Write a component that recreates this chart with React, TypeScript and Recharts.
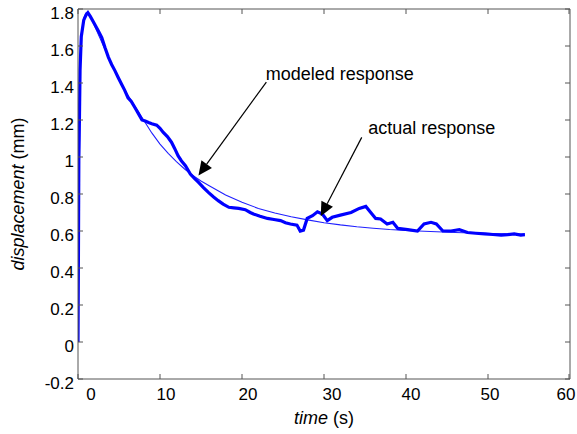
import React from 'react';
import {
  LineChart,
  Line,
  XAxis,
  YAxis,
  ReferenceLine,
  ReferenceDot,
  Label,
} from 'recharts';

// measured response (thick, noisy trace)
const actualTime = [
  0, 0.05, 0.1, 0.15, 0.25, 0.4, 0.7, 1.0, 1.2, 1.5, 2.0, 2.5, 2.9, 3.3, 3.7, 4.1, 4.5, 4.9, 5.3, 5.7,
  6.1, 6.5, 6.9, 7.3, 7.8, 8.2, 8.6, 9.0, 9.6, 10.0, 10.4, 10.9, 11.4, 11.8, 12.2, 12.6, 13.1, 13.7,
  14.2, 14.7, 15.3, 15.9, 16.5, 17.1, 17.7, 18.4, 19.0, 19.6, 20.4, 21.0, 21.4, 22.2, 23.1, 23.9,
  24.7, 25.3, 25.9, 26.7, 27.1, 27.5, 27.95, 28.6, 29.2, 29.8, 30.4, 31.0, 32.0, 33.3, 34.3, 35.1,
  35.7, 36.3, 36.9, 37.7, 38.4, 39.0, 40.2, 41.4, 42.2, 43.05, 43.7, 44.5, 45.5, 46.5, 47.5, 48.5,
  49.6, 50.6, 51.6, 52.4, 53.2, 54.0, 54.5,
];
const actualDisp = [
  0, 0.45, 0.98, 1.12, 1.47, 1.65, 1.74, 1.77, 1.78, 1.76, 1.72, 1.68, 1.645, 1.59, 1.54, 1.5, 1.467,
  1.43, 1.395, 1.36, 1.32, 1.3, 1.27, 1.24, 1.2, 1.195, 1.187, 1.18, 1.172, 1.155, 1.133, 1.11, 1.08,
  1.045, 1.007, 0.98, 0.953, 0.908, 0.885, 0.863, 0.835, 0.809, 0.785, 0.764, 0.745, 0.728, 0.725,
  0.722, 0.715, 0.7, 0.692, 0.68, 0.668, 0.662, 0.656, 0.645, 0.638, 0.632, 0.6, 0.605, 0.668, 0.683,
  0.704, 0.692, 0.656, 0.674, 0.686, 0.7, 0.722, 0.733, 0.7, 0.668, 0.665, 0.638, 0.647, 0.614, 0.607,
  0.6, 0.638, 0.647, 0.638, 0.6, 0.6, 0.607, 0.592, 0.588, 0.584, 0.581, 0.578, 0.58, 0.584, 0.578, 0.58,
];

// modeled response (thin, smooth trace)
const modelTime = [
  0, 0.08, 0.2, 0.4, 0.7, 1.0, 1.4, 2, 3, 4, 5, 6, 7, 8, 9, 10, 11, 12, 13, 14, 15, 16, 18, 20, 22, 24,
  26, 28, 30, 32, 34, 36, 38, 40, 43, 46, 49, 52, 54.5,
];
const modelDisp = [
  0, 0.9, 1.45, 1.66, 1.75, 1.78, 1.77, 1.71, 1.61, 1.51, 1.42, 1.34, 1.27, 1.2, 1.13, 1.07, 1.02,
  0.975, 0.935, 0.9, 0.87, 0.845, 0.795, 0.755, 0.722, 0.697, 0.677, 0.66, 0.645, 0.633, 0.623, 0.615,
  0.608, 0.603, 0.597, 0.592, 0.588, 0.585, 0.583,
];

const xTicks = [0, 10, 20, 30, 40, 50, 60];
const yTicks = [-0.2, 0, 0.2, 0.4, 0.6, 0.8, 1, 1.2, 1.4, 1.6, 1.8];
// the x labels sit a little right of their tick marks in the original
const xLabelShift = [13, 6, 6, 8, 5, 2, -3];

// annotation arrows: [start, tip] in data units
const modeledArrow = [{ x: 22.97, y: 1.405 }, { x: 14.69, y: 0.9 }];
const actualArrow = [{ x: 34.6, y: 1.106 }, { x: 29.6, y: 0.68 }];
const modeledText = { x: 22.9, y: 1.416, text: 'modeled response' };
const actualText = { x: 35.4, y: 1.124, text: 'actual response' };

const FONT = "Arial, 'Liberation Sans', sans-serif";
const AXIS = '#555';

const actualData = actualTime.map((t, i) => ({ t, d: actualDisp[i] }));
const modelData = modelTime.map((t, i) => ({ t, d: modelDisp[i] }));

const fmt = (v: number) => String(Number(v.toFixed(1)));

const LeftTick = (props: any) => {
  const { x, y, payload } = props;
  return (
    <g>
      <line x1={x + 4} x2={x + 9} y1={y} y2={y} stroke={AXIS} />
      <text x={x} y={y + 4} textAnchor="end" dominantBaseline="central" fontSize={17} fontFamily={FONT} fill="#000">
        {fmt(payload.value)}
      </text>
    </g>
  );
};

const RightTick = (props: any) => {
  const { x, y } = props;
  return <line x1={x - 5} x2={x} y1={y} y2={y} stroke={AXIS} />;
};

const BottomTick = (props: any) => {
  const { x, y, payload, index } = props;
  const dx = xLabelShift[index] ?? 5;
  return (
    <g>
      <line x1={x} x2={x} y1={y - 5} y2={y} stroke={AXIS} />
      <text x={x + dx} y={y + 15} textAnchor="middle" dominantBaseline="central" fontSize={17} fontFamily={FONT} fill="#000">
        {payload.value}
      </text>
    </g>
  );
};

const TopTick = (props: any) => {
  const { x, y } = props;
  return <line x1={x} x2={x} y1={y} y2={y + 5} stroke={AXIS} />;
};

const Arrow = (props: any) => {
  const { x1, y1, x2, y2 } = props;
  const ang = Math.atan2(y2 - y1, x2 - x1);
  const len = 14;
  const half = 6.5;
  const bx = x2 - len * Math.cos(ang);
  const by = y2 - len * Math.sin(ang);
  const px = -Math.sin(ang) * half;
  const py = Math.cos(ang) * half;
  return (
    <g>
      <line x1={x1} y1={y1} x2={bx} y2={by} stroke="#000" strokeWidth={1.2} />
      <polygon points={`${x2},${y2} ${bx + px},${by + py} ${bx - px},${by - py}`} fill="#000" />
    </g>
  );
};

const noteShape = (text: string) => (props: any) => (
  <text x={props.cx} y={props.cy} fontSize={18} fontFamily={FONT} fill="#000">
    {text}
  </text>
);

const XTitle = (props: any) => {
  const { viewBox } = props;
  const cx = viewBox.x + viewBox.width / 2;
  return (
    <text x={cx} y={viewBox.y + 39} textAnchor="middle" dominantBaseline="central" fontSize={18} fontFamily={FONT} fill="#000">
      <tspan fontStyle="italic">time</tspan> (s)
    </text>
  );
};

const YTitle = (props: any) => {
  const { viewBox } = props;
  const cy = viewBox.y + viewBox.height / 2;
  const cx = 18;
  return (
    <text
      x={cx}
      y={cy}
      textAnchor="middle"
      dominantBaseline="central"
      transform={`rotate(-90, ${cx}, ${cy})`}
      fontSize={18}
      fontFamily={FONT}
      fill="#000"
    >
      <tspan fontStyle="italic">displacement</tspan> (mm)
    </text>
  );
};

export default function App() {
  return (
    <div style={{ position: 'absolute', left: 0, top: 0, background: '#fff' }}>
      <LineChart width={577} height={434} margin={{ top: 0, right: 0, bottom: 0, left: 0 }}>
        <XAxis
          dataKey="t"
          type="number"
          domain={[0, 60]}
          ticks={xTicks}
          allowDataOverflow
          height={55}
          tickSize={0}
          tickMargin={0}
          tickLine={false}
          axisLine={{ stroke: AXIS }}
          tick={<BottomTick />}
        >
          <Label content={<XTitle />} />
        </XAxis>
        <XAxis
          xAxisId="top"
          orientation="top"
          dataKey="t"
          type="number"
          domain={[0, 60]}
          ticks={xTicks}
          allowDataOverflow
          height={9}
          tickSize={0}
          tickMargin={0}
          tickLine={false}
          axisLine={{ stroke: AXIS }}
          tick={<TopTick />}
        />
        <YAxis
          type="number"
          domain={[-0.2, 1.8]}
          ticks={yTicks}
          allowDataOverflow
          width={78}
          tickSize={0}
          tickMargin={4}
          tickLine={false}
          axisLine={{ stroke: AXIS }}
          tick={<LeftTick />}
        >
          <Label content={<YTitle />} />
        </YAxis>
        <YAxis
          yAxisId="right"
          orientation="right"
          type="number"
          domain={[-0.2, 1.8]}
          ticks={yTicks}
          allowDataOverflow
          width={7}
          tickSize={0}
          tickMargin={0}
          tickLine={false}
          axisLine={{ stroke: AXIS }}
          tick={<RightTick />}
        />
        <Line
          data={modelData}
          dataKey="d"
          type="linear"
          stroke="#2020ff"
          strokeWidth={1.1}
          dot={false}
          isAnimationActive={false}
        />
        <Line
          data={actualData}
          dataKey="d"
          type="linear"
          stroke="#0000ff"
          strokeWidth={3.2}
          dot={false}
          isAnimationActive={false}
        />
        <ReferenceLine segment={modeledArrow} shape={<Arrow />} ifOverflow="visible" />
        <ReferenceLine segment={actualArrow} shape={<Arrow />} ifOverflow="visible" />
        <ReferenceDot x={modeledText.x} y={modeledText.y} r={0} shape={noteShape(modeledText.text)} ifOverflow="visible" />
        <ReferenceDot x={actualText.x} y={actualText.y} r={0} shape={noteShape(actualText.text)} ifOverflow="visible" />
      </LineChart>
    </div>
  );
}
